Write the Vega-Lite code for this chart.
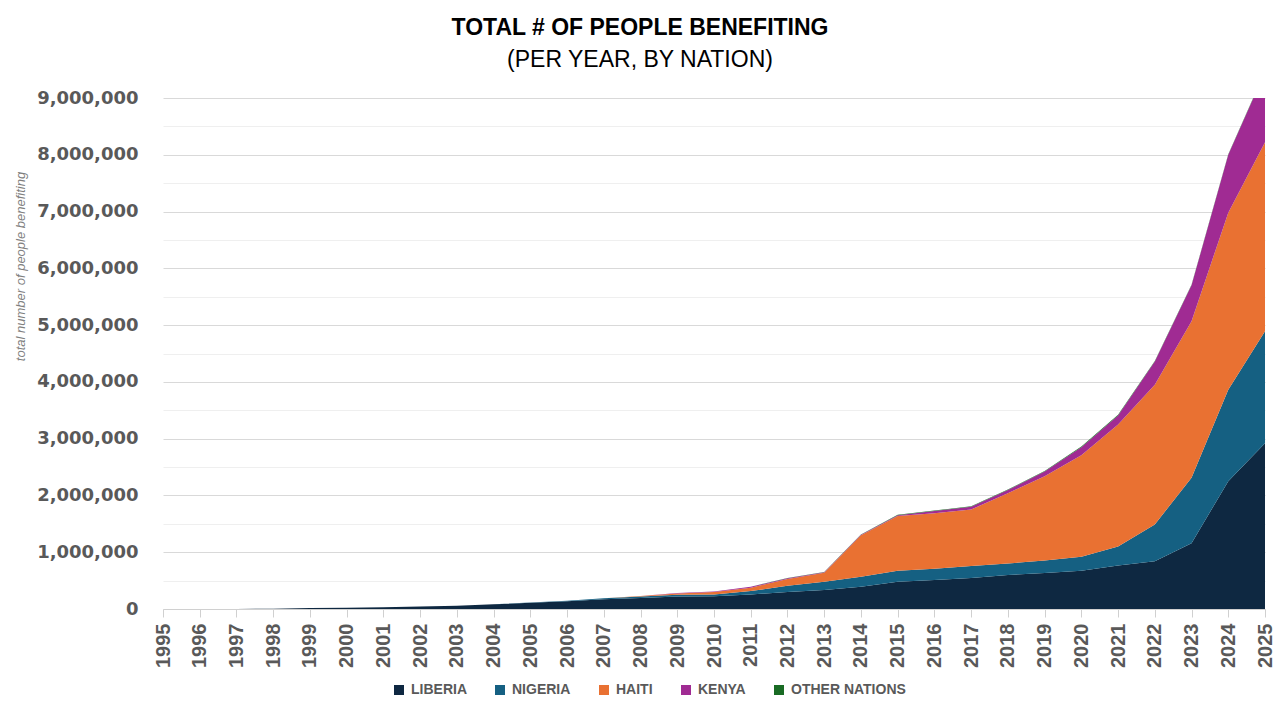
{
  "$schema": "https://vega.github.io/schema/vega-lite/v6.json",
  "width": 1102,
  "height": 511,
  "autosize": {"type": "none"},
  "padding": {"left": 163, "top": 98, "right": 15, "bottom": 111},
  "background": "white",
  "config": {"view": {"stroke": null}, "font": "Liberation Sans"},
  "title": {
    "text": "TOTAL # OF PEOPLE BENEFITING",
    "subtitle": "(PER YEAR, BY NATION)",
    "anchor": "middle",
    "dx": -74,
    "font": "Liberation Sans",
    "fontSize": 23,
    "fontWeight": "bold",
    "color": "#000000",
    "subtitleFont": "Liberation Sans",
    "subtitleFontSize": 23,
    "subtitleFontWeight": "normal",
    "subtitleColor": "#000000",
    "subtitlePadding": 9,
    "offset": 17
  },
  "data": {"values": [
    {"year": 1995, "nation": "LIBERIA", "people": 0},
    {"year": 1995, "nation": "NIGERIA", "people": 0},
    {"year": 1995, "nation": "HAITI", "people": 0},
    {"year": 1995, "nation": "KENYA", "people": 0},
    {"year": 1995, "nation": "OTHER NATIONS", "people": 0},
    {"year": 1996, "nation": "LIBERIA", "people": 0},
    {"year": 1996, "nation": "NIGERIA", "people": 0},
    {"year": 1996, "nation": "HAITI", "people": 0},
    {"year": 1996, "nation": "KENYA", "people": 0},
    {"year": 1996, "nation": "OTHER NATIONS", "people": 0},
    {"year": 1997, "nation": "LIBERIA", "people": 0},
    {"year": 1997, "nation": "NIGERIA", "people": 0},
    {"year": 1997, "nation": "HAITI", "people": 0},
    {"year": 1997, "nation": "KENYA", "people": 0},
    {"year": 1997, "nation": "OTHER NATIONS", "people": 0},
    {"year": 1998, "nation": "LIBERIA", "people": 5000},
    {"year": 1998, "nation": "NIGERIA", "people": 0},
    {"year": 1998, "nation": "HAITI", "people": 0},
    {"year": 1998, "nation": "KENYA", "people": 0},
    {"year": 1998, "nation": "OTHER NATIONS", "people": 0},
    {"year": 1999, "nation": "LIBERIA", "people": 16000},
    {"year": 1999, "nation": "NIGERIA", "people": 0},
    {"year": 1999, "nation": "HAITI", "people": 0},
    {"year": 1999, "nation": "KENYA", "people": 0},
    {"year": 1999, "nation": "OTHER NATIONS", "people": 0},
    {"year": 2000, "nation": "LIBERIA", "people": 22000},
    {"year": 2000, "nation": "NIGERIA", "people": 0},
    {"year": 2000, "nation": "HAITI", "people": 0},
    {"year": 2000, "nation": "KENYA", "people": 0},
    {"year": 2000, "nation": "OTHER NATIONS", "people": 0},
    {"year": 2001, "nation": "LIBERIA", "people": 30000},
    {"year": 2001, "nation": "NIGERIA", "people": 0},
    {"year": 2001, "nation": "HAITI", "people": 0},
    {"year": 2001, "nation": "KENYA", "people": 0},
    {"year": 2001, "nation": "OTHER NATIONS", "people": 0},
    {"year": 2002, "nation": "LIBERIA", "people": 45000},
    {"year": 2002, "nation": "NIGERIA", "people": 0},
    {"year": 2002, "nation": "HAITI", "people": 0},
    {"year": 2002, "nation": "KENYA", "people": 0},
    {"year": 2002, "nation": "OTHER NATIONS", "people": 0},
    {"year": 2003, "nation": "LIBERIA", "people": 58000},
    {"year": 2003, "nation": "NIGERIA", "people": 0},
    {"year": 2003, "nation": "HAITI", "people": 0},
    {"year": 2003, "nation": "KENYA", "people": 0},
    {"year": 2003, "nation": "OTHER NATIONS", "people": 0},
    {"year": 2004, "nation": "LIBERIA", "people": 82000},
    {"year": 2004, "nation": "NIGERIA", "people": 3000},
    {"year": 2004, "nation": "HAITI", "people": 0},
    {"year": 2004, "nation": "KENYA", "people": 0},
    {"year": 2004, "nation": "OTHER NATIONS", "people": 0},
    {"year": 2005, "nation": "LIBERIA", "people": 110000},
    {"year": 2005, "nation": "NIGERIA", "people": 6000},
    {"year": 2005, "nation": "HAITI", "people": 0},
    {"year": 2005, "nation": "KENYA", "people": 0},
    {"year": 2005, "nation": "OTHER NATIONS", "people": 0},
    {"year": 2006, "nation": "LIBERIA", "people": 135000},
    {"year": 2006, "nation": "NIGERIA", "people": 12000},
    {"year": 2006, "nation": "HAITI", "people": 0},
    {"year": 2006, "nation": "KENYA", "people": 0},
    {"year": 2006, "nation": "OTHER NATIONS", "people": 0},
    {"year": 2007, "nation": "LIBERIA", "people": 170000},
    {"year": 2007, "nation": "NIGERIA", "people": 18000},
    {"year": 2007, "nation": "HAITI", "people": 2000},
    {"year": 2007, "nation": "KENYA", "people": 0},
    {"year": 2007, "nation": "OTHER NATIONS", "people": 0},
    {"year": 2008, "nation": "LIBERIA", "people": 195000},
    {"year": 2008, "nation": "NIGERIA", "people": 25000},
    {"year": 2008, "nation": "HAITI", "people": 10000},
    {"year": 2008, "nation": "KENYA", "people": 0},
    {"year": 2008, "nation": "OTHER NATIONS", "people": 0},
    {"year": 2009, "nation": "LIBERIA", "people": 220000},
    {"year": 2009, "nation": "NIGERIA", "people": 30000},
    {"year": 2009, "nation": "HAITI", "people": 25000},
    {"year": 2009, "nation": "KENYA", "people": 5000},
    {"year": 2009, "nation": "OTHER NATIONS", "people": 1000},
    {"year": 2010, "nation": "LIBERIA", "people": 225000},
    {"year": 2010, "nation": "NIGERIA", "people": 30000},
    {"year": 2010, "nation": "HAITI", "people": 45000},
    {"year": 2010, "nation": "KENYA", "people": 8000},
    {"year": 2010, "nation": "OTHER NATIONS", "people": 2000},
    {"year": 2011, "nation": "LIBERIA", "people": 255000},
    {"year": 2011, "nation": "NIGERIA", "people": 60000},
    {"year": 2011, "nation": "HAITI", "people": 60000},
    {"year": 2011, "nation": "KENYA", "people": 15000},
    {"year": 2011, "nation": "OTHER NATIONS", "people": 3000},
    {"year": 2012, "nation": "LIBERIA", "people": 300000},
    {"year": 2012, "nation": "NIGERIA", "people": 110000},
    {"year": 2012, "nation": "HAITI", "people": 120000},
    {"year": 2012, "nation": "KENYA", "people": 12000},
    {"year": 2012, "nation": "OTHER NATIONS", "people": 3000},
    {"year": 2013, "nation": "LIBERIA", "people": 335000},
    {"year": 2013, "nation": "NIGERIA", "people": 145000},
    {"year": 2013, "nation": "HAITI", "people": 160000},
    {"year": 2013, "nation": "KENYA", "people": 8000},
    {"year": 2013, "nation": "OTHER NATIONS", "people": 3000},
    {"year": 2014, "nation": "LIBERIA", "people": 390000},
    {"year": 2014, "nation": "NIGERIA", "people": 180000},
    {"year": 2014, "nation": "HAITI", "people": 730000},
    {"year": 2014, "nation": "KENYA", "people": 8000},
    {"year": 2014, "nation": "OTHER NATIONS", "people": 4000},
    {"year": 2015, "nation": "LIBERIA", "people": 480000},
    {"year": 2015, "nation": "NIGERIA", "people": 195000},
    {"year": 2015, "nation": "HAITI", "people": 965000},
    {"year": 2015, "nation": "KENYA", "people": 10000},
    {"year": 2015, "nation": "OTHER NATIONS", "people": 12000},
    {"year": 2016, "nation": "LIBERIA", "people": 510000},
    {"year": 2016, "nation": "NIGERIA", "people": 200000},
    {"year": 2016, "nation": "HAITI", "people": 975000},
    {"year": 2016, "nation": "KENYA", "people": 40000},
    {"year": 2016, "nation": "OTHER NATIONS", "people": 8000},
    {"year": 2017, "nation": "LIBERIA", "people": 546000},
    {"year": 2017, "nation": "NIGERIA", "people": 211000},
    {"year": 2017, "nation": "HAITI", "people": 995000},
    {"year": 2017, "nation": "KENYA", "people": 50000},
    {"year": 2017, "nation": "OTHER NATIONS", "people": 8000},
    {"year": 2018, "nation": "LIBERIA", "people": 600000},
    {"year": 2018, "nation": "NIGERIA", "people": 200000},
    {"year": 2018, "nation": "HAITI", "people": 1240000},
    {"year": 2018, "nation": "KENYA", "people": 55000},
    {"year": 2018, "nation": "OTHER NATIONS", "people": 8000},
    {"year": 2019, "nation": "LIBERIA", "people": 632000},
    {"year": 2019, "nation": "NIGERIA", "people": 224000},
    {"year": 2019, "nation": "HAITI", "people": 1484000},
    {"year": 2019, "nation": "KENYA", "people": 80000},
    {"year": 2019, "nation": "OTHER NATIONS", "people": 10000},
    {"year": 2020, "nation": "LIBERIA", "people": 675000},
    {"year": 2020, "nation": "NIGERIA", "people": 245000},
    {"year": 2020, "nation": "HAITI", "people": 1790000},
    {"year": 2020, "nation": "KENYA", "people": 140000},
    {"year": 2020, "nation": "OTHER NATIONS", "people": 10000},
    {"year": 2021, "nation": "LIBERIA", "people": 766000},
    {"year": 2021, "nation": "NIGERIA", "people": 334000},
    {"year": 2021, "nation": "HAITI", "people": 2150000},
    {"year": 2021, "nation": "KENYA", "people": 160000},
    {"year": 2021, "nation": "OTHER NATIONS", "people": 10000},
    {"year": 2022, "nation": "LIBERIA", "people": 843000},
    {"year": 2022, "nation": "NIGERIA", "people": 647000},
    {"year": 2022, "nation": "HAITI", "people": 2460000},
    {"year": 2022, "nation": "KENYA", "people": 410000},
    {"year": 2022, "nation": "OTHER NATIONS", "people": 10000},
    {"year": 2023, "nation": "LIBERIA", "people": 1160000},
    {"year": 2023, "nation": "NIGERIA", "people": 1150000},
    {"year": 2023, "nation": "HAITI", "people": 2760000},
    {"year": 2023, "nation": "KENYA", "people": 630000},
    {"year": 2023, "nation": "OTHER NATIONS", "people": 10000},
    {"year": 2024, "nation": "LIBERIA", "people": 2250000},
    {"year": 2024, "nation": "NIGERIA", "people": 1610000},
    {"year": 2024, "nation": "HAITI", "people": 3120000},
    {"year": 2024, "nation": "KENYA", "people": 1020000},
    {"year": 2024, "nation": "OTHER NATIONS", "people": 10000},
    {"year": 2025, "nation": "LIBERIA", "people": 2920000},
    {"year": 2025, "nation": "NIGERIA", "people": 1970000},
    {"year": 2025, "nation": "HAITI", "people": 3330000},
    {"year": 2025, "nation": "KENYA", "people": 1240000},
    {"year": 2025, "nation": "OTHER NATIONS", "people": 10000}
  ]},
  "transform": [
    {"calculate": "indexof(['LIBERIA','NIGERIA','HAITI','KENYA','OTHER NATIONS'], datum.nation)", "as": "ord"}
  ],
  "mark": {"type": "area", "clip": true},
  "encoding": {
    "x": {
      "field": "year",
      "type": "quantitative",
      "scale": {"domain": [1995, 2025], "nice": false, "zero": false},
      "axis": {
        "title": null,
        "values": [1995,1996,1997,1998,1999,2000,2001,2002,2003,2004,2005,2006,2007,2008,2009,2010,2011,2012,2013,2014,2015,2016,2017,2018,2019,2020,2021,2022,2023,2024,2025],
        "format": "d",
        "labelAngle": -90,
        "labelAlign": "right",
        "labelBaseline": "middle",
        "labelFont": "Liberation Sans",
        "labelFontWeight": "bold",
        "labelFontSize": 20,
        "labelColor": "#595959",
        "labelPadding": 6,
        "labelOverlap": false,
        "labelFlush": false,
        "tickSize": 8,
        "tickColor": "#d0d0d0",
        "domainColor": "#d0d0d0",
        "grid": false
      }
    },
    "y": {
      "field": "people",
      "type": "quantitative",
      "stack": "zero",
      "scale": {"domain": [0, 9000000], "nice": false},
      "axis": {
        "title": "total number of people benefiting",
        "values": [0,500000,1000000,1500000,2000000,2500000,3000000,3500000,4000000,4500000,5000000,5500000,6000000,6500000,7000000,7500000,8000000,8500000,9000000],
        "labelExpr": "datum.value % 1000000 === 0 ? format(datum.value, ',') : ''",
        "grid": true,
        "gridColor": {"condition": {"test": "datum.value % 1000000 === 0", "value": "#d9d9d9"}, "value": "#efefef"},
        "domain": false,
        "ticks": false,
        "labelFont": "DejaVu Sans",
        "labelFontWeight": "bold",
        "labelFontSize": 18,
        "labelColor": "#595959",
        "labelPadding": 25,
        "titleFont": "Liberation Sans",
        "titleFontStyle": "italic",
        "titleFontWeight": "normal",
        "titleFontSize": 13,
        "titleColor": "#7f7f7f",
        "titleAngle": -90,
        "titleX": -143,
        "titleY": 168,
        "titleAlign": "center",
        "titleBaseline": "middle"
      }
    },
    "color": {
      "field": "nation",
      "type": "nominal",
      "scale": {
        "domain": ["LIBERIA", "NIGERIA", "HAITI", "KENYA", "OTHER NATIONS"],
        "range": ["#0E2841", "#156082", "#E97132", "#A02B93", "#196B24"]
      },
      "legend": {
        "orient": "none",
        "legendX": 229,
        "legendY": 585,
        "direction": "horizontal",
        "title": null,
        "padding": 0,
        "symbolType": "square",
        "symbolSize": 100,
        "symbolStrokeWidth": 0,
        "labelFont": "Liberation Sans",
        "labelFontWeight": "bold",
        "labelFontSize": 14,
        "labelColor": "#595959",
        "labelOffset": 5,
        "columnPadding": 26
      }
    },
    "order": {"field": "ord", "type": "quantitative"}
  }
}
